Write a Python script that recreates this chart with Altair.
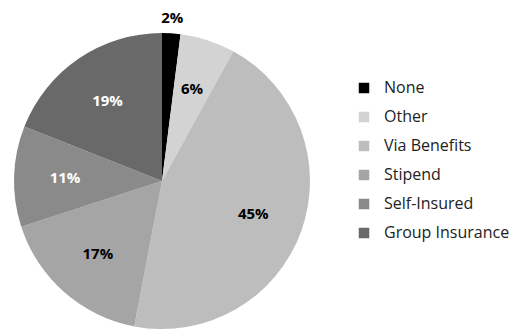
import altair as alt
import pandas as pd

categories = ["None", "Other", "Via Benefits", "Stipend", "Self-Insured", "Group Insurance"]
values = [2, 6, 45, 17, 11, 19]
colors = ["#000000", "#d3d3d3", "#bdbdbd", "#a5a5a5", "#8a8a8a", "#696969"]
label_colors = ["black", "black", "black", "black", "white", "white"]

df = pd.DataFrame({
    "cat": categories,
    "val": values,
    "ord": list(range(len(categories))),
    "lab": [f"{v}%" for v in values],
    "lc": label_colors,
})

CX, CY, R = 162, 181, 148
FONT = "Open Sans"

base = alt.Chart(df).encode(
    theta=alt.Theta("val:Q", stack=True),
    order=alt.Order("ord:Q", sort="ascending"),
)

pie = base.mark_arc(x=CX, y=CY, outerRadius=R, stroke=None).encode(
    color=alt.Color(
        "cat:N",
        scale=alt.Scale(domain=categories, range=colors),
        sort=categories,
        legend=alt.Legend(
            title=None,
            orient="none",
            legendX=356,
            legendY=80,
            symbolType="square",
            symbolSize=110,
            symbolStrokeWidth=0,
            labelFont=FONT,
            labelFontSize=16,
            labelColor="#222222",
            rowPadding=13,
            labelOffset=12,
        ),
    )
)

inner = base.mark_text(
    x=CX, y=CY, radius=97, font=FONT, fontSize=15, fontWeight="bold"
).encode(
    text="lab:N",
    color=alt.Color("lc:N", scale=None),
    opacity=alt.condition(alt.datum.cat == "None", alt.value(0), alt.value(1)),
)

outer = base.mark_text(
    x=CX, y=CY, radius=163, font=FONT, fontSize=15, fontWeight="bold"
).encode(
    text="lab:N",
    color=alt.Color("lc:N", scale=None),
    opacity=alt.condition(alt.datum.cat == "None", alt.value(1), alt.value(0)),
)

chart = alt.layer(pie, inner, outer).properties(
    width=514, height=331, autosize=alt.AutoSizeParams(type="none"), padding=0
).configure_view(stroke=None).configure(background="white")

chart.save("out.html", embed_options={"renderer": "svg", "actions": False})
